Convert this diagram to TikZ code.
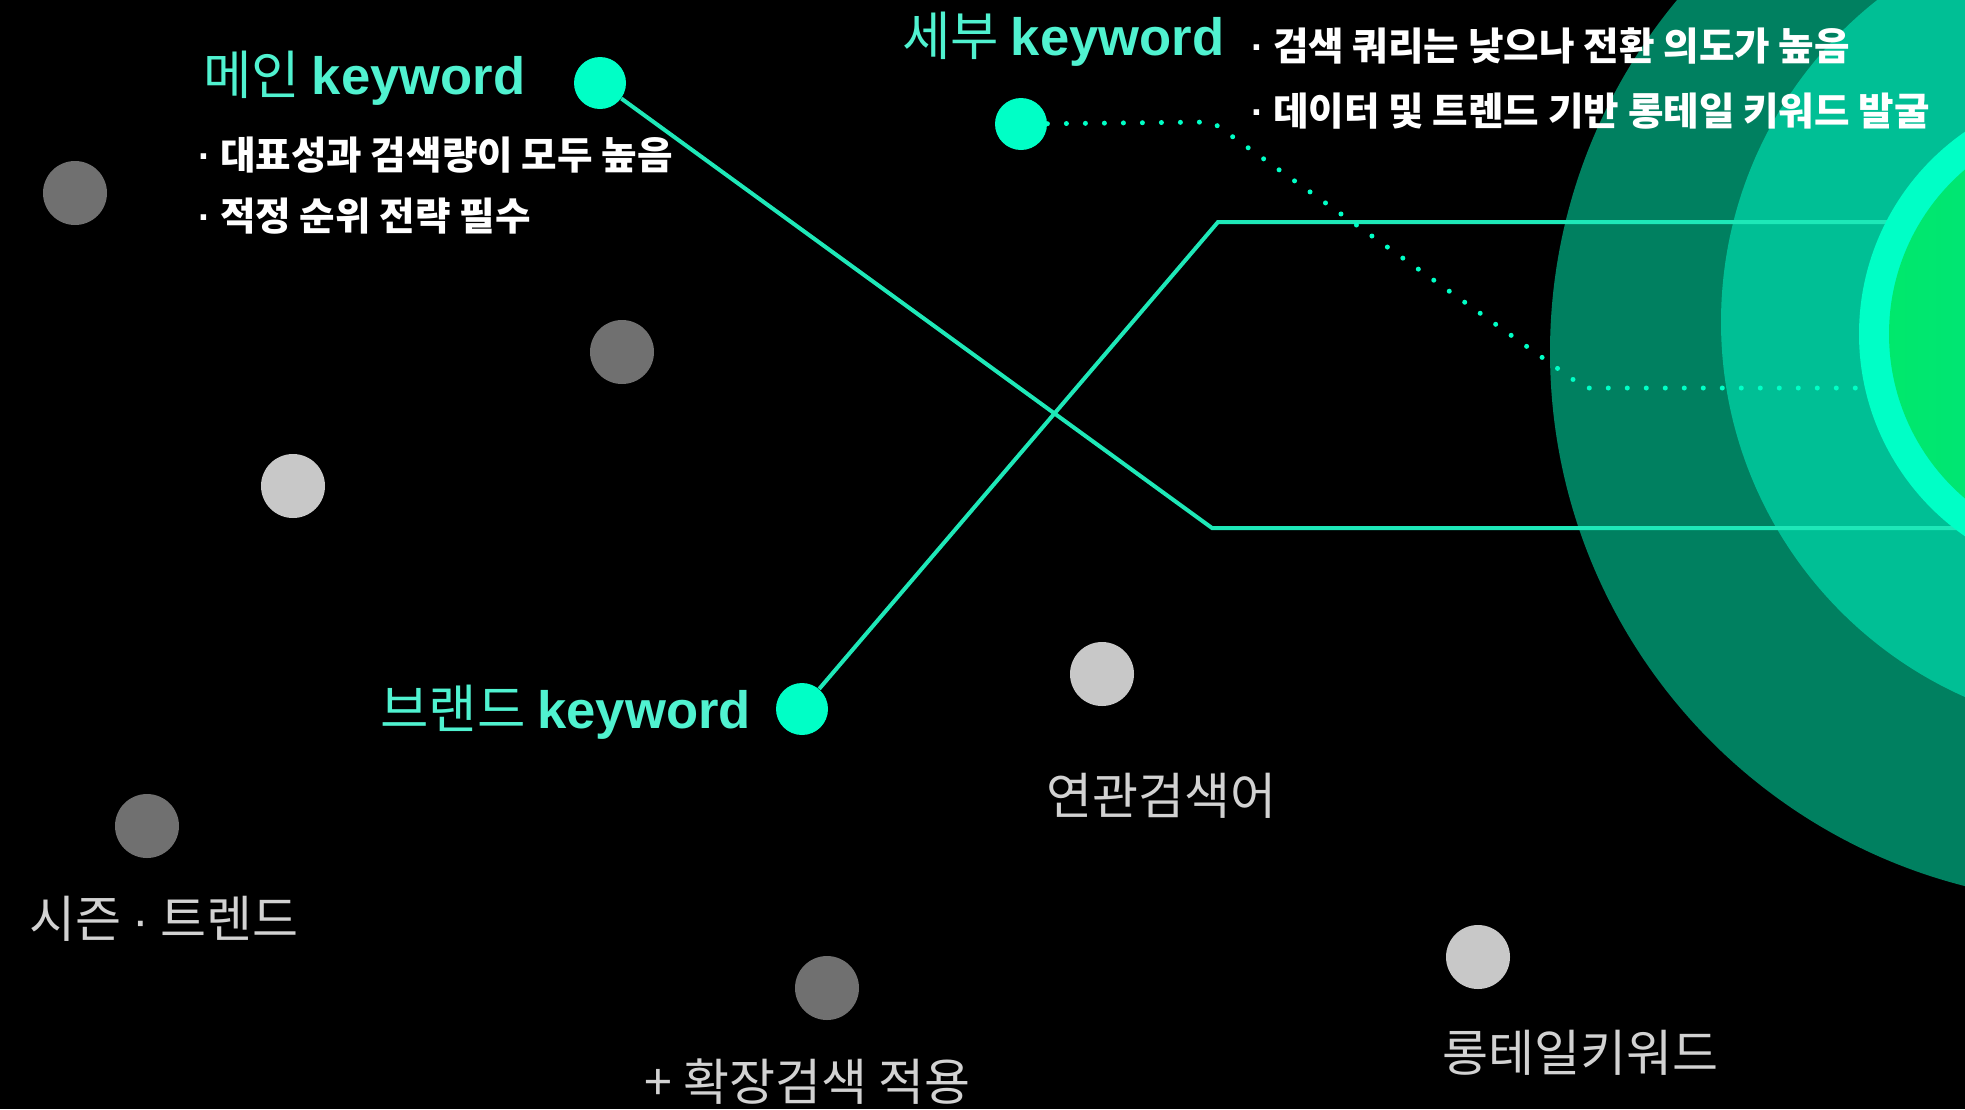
\documentclass[tikz,border=0pt]{standalone}
\usepackage{fontspec}
\setmainfont{Noto Sans CJK KR}
\newfontfamily\latinfont{Liberation Sans}
\usepackage{tikz}
\definecolor{mint}{HTML}{00FFC6}
\definecolor{linec}{HTML}{1EE8B8}
\definecolor{headc}{HTML}{50F2D0}
\definecolor{tagc}{HTML}{D2D2D2}
\definecolor{darkdot}{HTML}{707070}
\definecolor{lightdot}{HTML}{C8C8C8}
\definecolor{outerc}{HTML}{008060}
\definecolor{midc}{HTML}{00BF95}
\definecolor{coreA}{HTML}{00E86C}
\definecolor{coreB}{HTML}{00DA92}
\newcommand{\bul}{{\latinfont ·} }

\begin{document}
\begin{tikzpicture}[x=0.5pt,y=-0.5pt,
  dot/.style={circle,inner sep=0pt,minimum size=26pt,fill=mint},
  gdot/.style={circle,inner sep=0pt,minimum size=32pt,fill=#1},
  head/.style={anchor=base west,inner sep=0pt,text=headc,font=\fontsize{26.3}{31}\selectfont},
  note/.style={anchor=base west,inner sep=0pt,text=white,font=\bfseries\fontsize{19.3}{23}\selectfont},
  tag/.style={anchor=base west,inner sep=0pt,text=tagc,font=\fontsize{25}{30}\selectfont}]
  \tikzstyle{link}=[draw=linec,line width=2pt]
  \tikzstyle{trail}=[draw=mint,line width=2.5pt,line cap=round,dash pattern=on 0pt off 9.5pt]

  \useasboundingbox (0,0) rectangle (1965,1109);
  \fill[black] (0,0) rectangle (1965,1109);

  \begin{scope}
    \clip (0,0) rectangle (1965,1109);
    \fill[outerc] (2101,352) circle (275.5pt);
    \fill[midc] (2131,322) circle (205pt);

    \node[dot] (main) at (600,83) {};
    \node[dot] (sub) at (1021,124) {};
    \node[dot] (brand) at (802,709) {};

    \node[gdot=darkdot] (g1) at (75,193) {};
    \node[gdot=darkdot] (g2) at (622,352) {};
    \node[gdot=darkdot] (g3) at (147,826) {};
    \node[gdot=darkdot] (g4) at (827,988) {};
    \node[gdot=lightdot] (l1) at (293,486) {};
    \node[gdot=lightdot] (l2) at (1102,674) {};
    \node[gdot=lightdot] (l3) at (1478,957) {};

    \coordinate (mbend) at (1212,528);
    \coordinate (mend) at (1990,528);
    \coordinate (bbend) at (1218,222);
    \coordinate (bend) at (1950,222);
    \coordinate (sbendA) at (1212,122);
    \coordinate (sbendB) at (1585,388);
    \coordinate (send) at (1900,388);

    \draw[link] (main) -- (mbend) -- (mend);
    \draw[link] (brand) -- (bbend) -- (bend);
    \draw[trail] (sub) -- (sbendA) -- (sbendB) -- (send);

    \fill[mint] (2105,334) circle (123pt);
    \shade[left color=coreA,right color=coreB] (2105,334) circle (108pt);
  \end{scope}

  \node[head] (mainhead) at (203,94) {메인 {\latinfont\bfseries keyword}};
  \node[head] (subhead) at (902,55) {세부 {\latinfont\bfseries keyword}};
  \node[head] (brandhead) at (380,728) {브랜드 {\latinfont\bfseries keyword}};

  \node[note] (mainA) at (198,169) {\bul 대표성과 검색량이 모두 높음};
  \node[note] (mainB) at (198,230) {\bul 적정 순위 전략 필수};
  \node[note] (subA) at (1251,60) {\bul 검색 쿼리는 낮으나 전환 의도가 높음};
  \node[note] (subB) at (1251,125) {\bul 데이터 및 트렌드 기반 롱테일 키워드 발굴};

  \node[tag] (season) at (29,937) {시즌 {\latinfont ·} 트렌드};
  \node[tag] (related) at (1046,814) {연관검색어};
  \node[tag] (longtail) at (1442,1071) {롱테일키워드};
  \node[tag] (extend) at (644,1100) {+ 확장검색 적용};
\end{tikzpicture}
\end{document}
